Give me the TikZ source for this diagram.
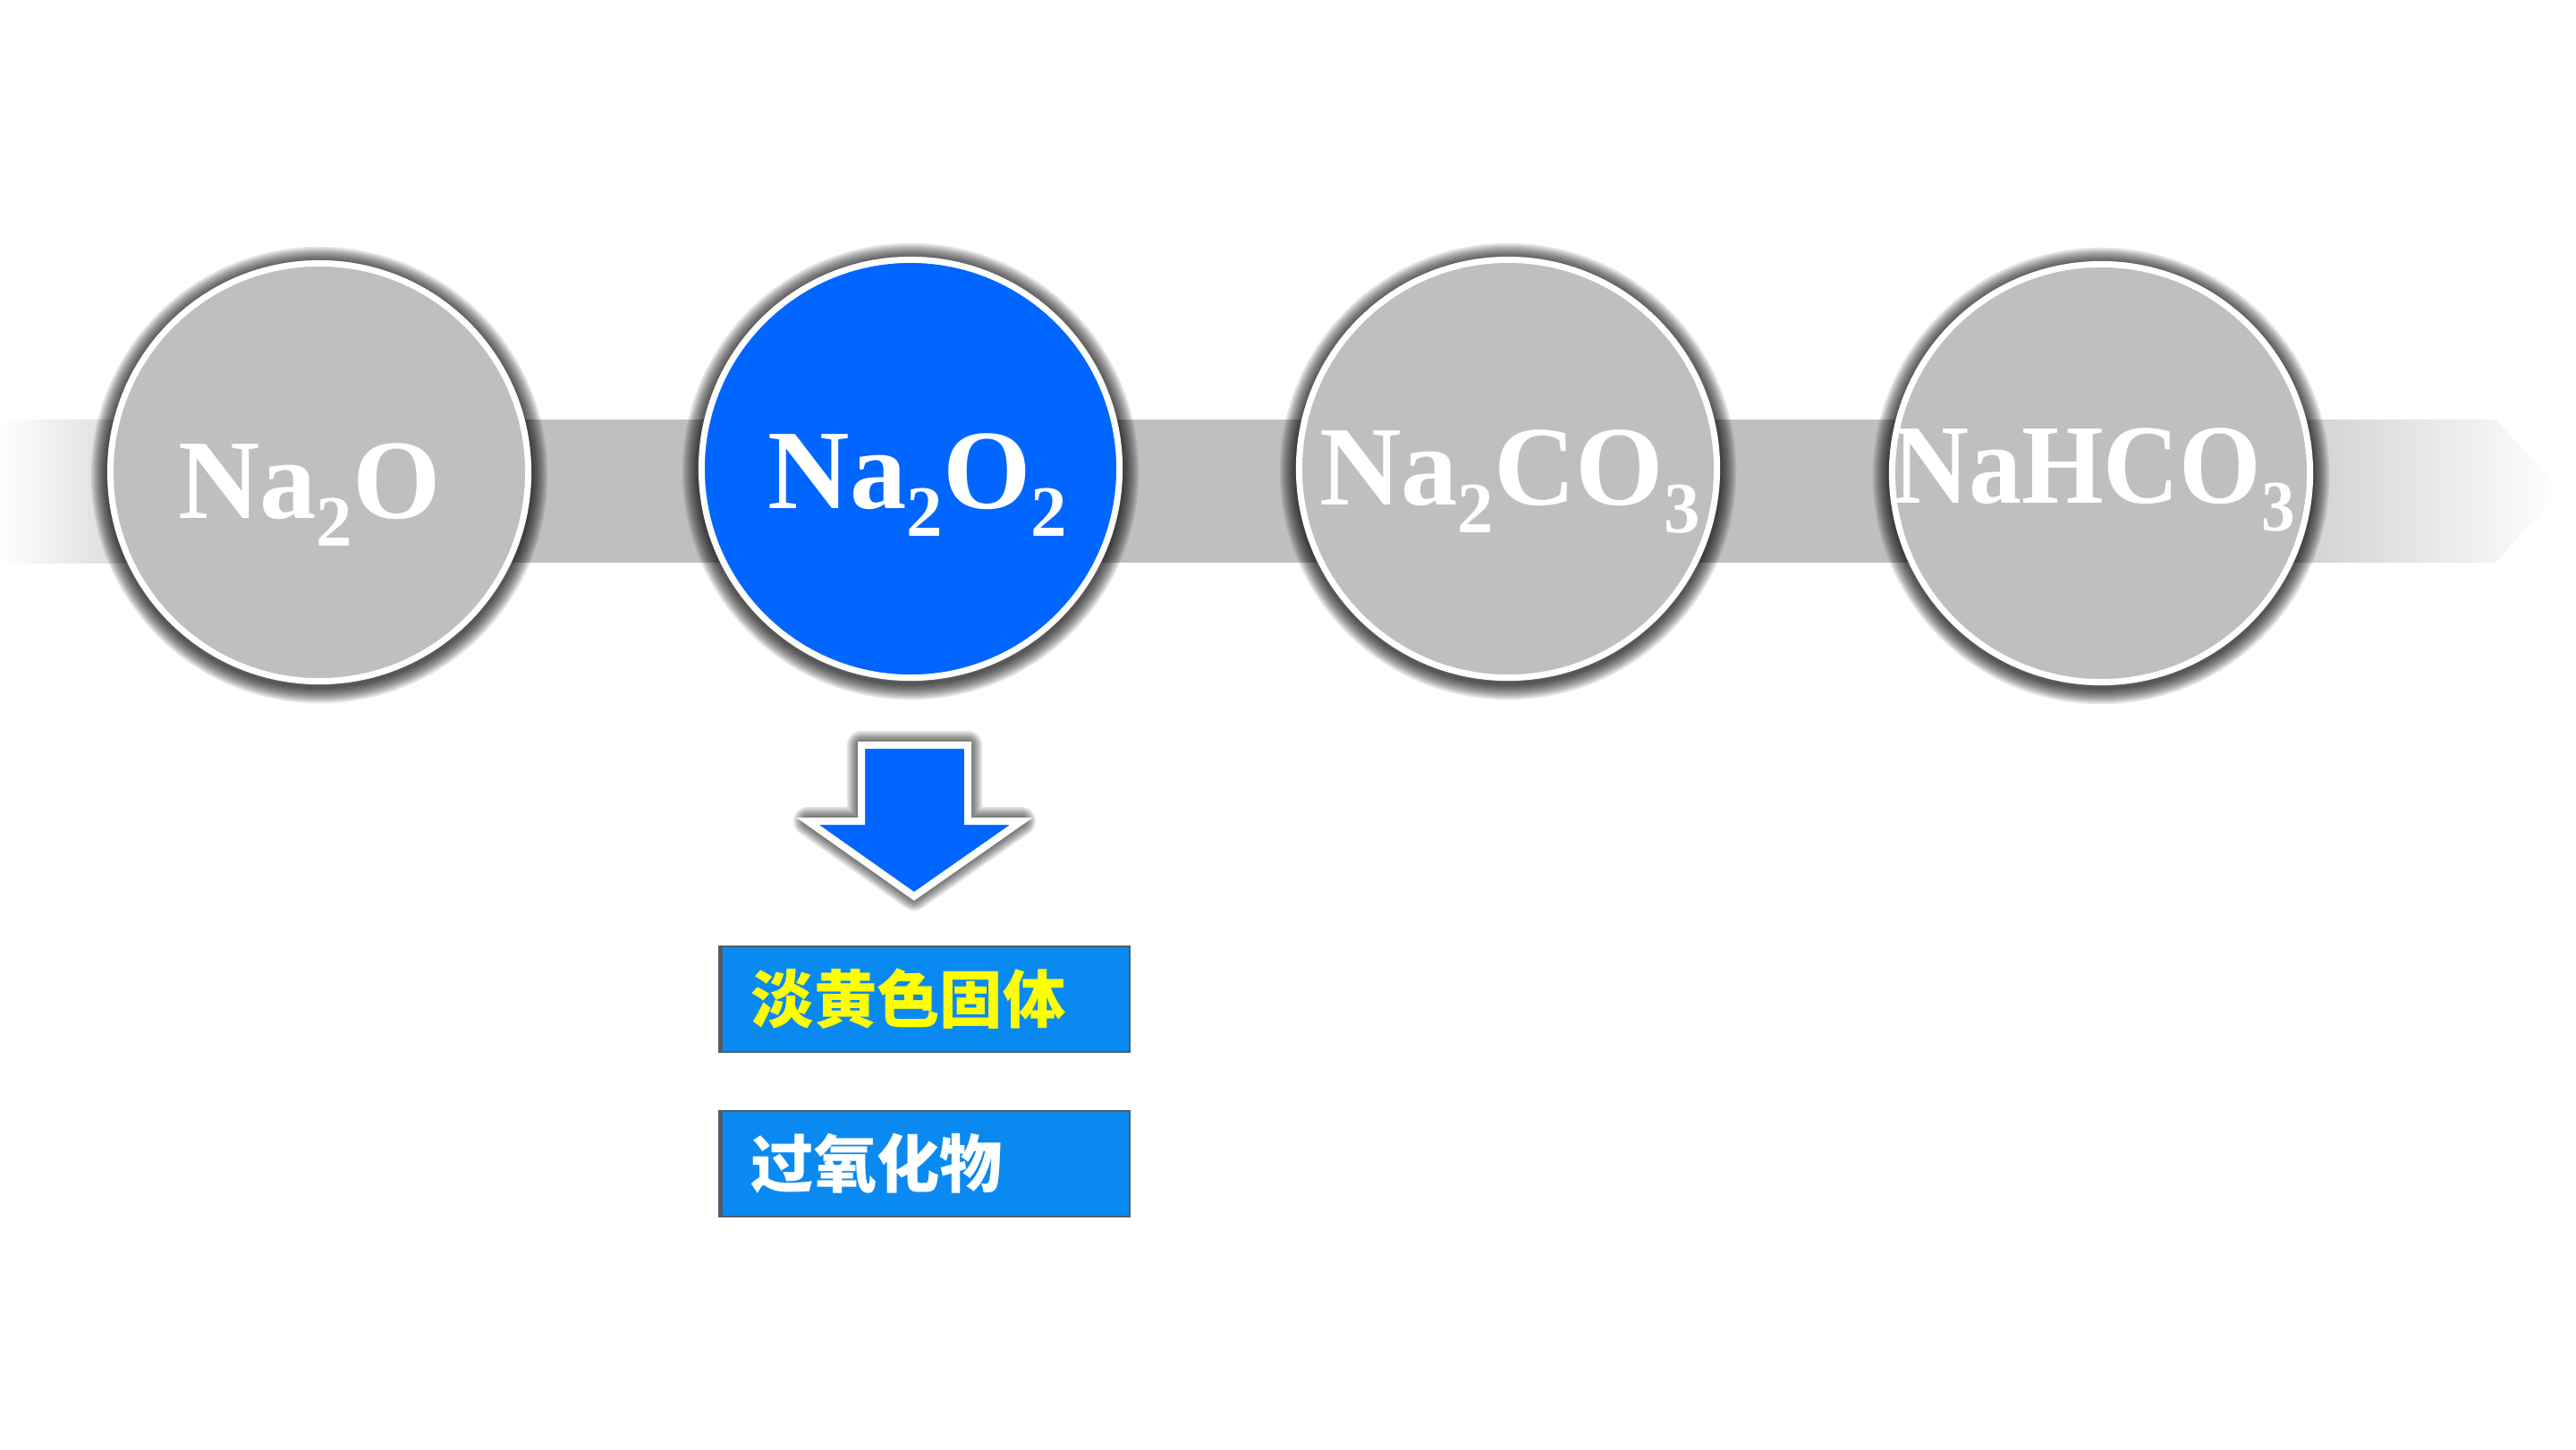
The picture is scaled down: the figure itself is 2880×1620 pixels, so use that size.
\documentclass[tikz,border=0pt]{standalone}
\usepackage{fontspec}
\setmainfont{Liberation Serif}
\newfontfamily\cjk{Noto Sans CJK SC}
\usetikzlibrary{positioning}
\definecolor{bandgrey}{HTML}{BFBFBF}
\definecolor{ballblue}{HTML}{0066FF}
\definecolor{boxblue}{HTML}{0A8AF0}
\definecolor{boxedge}{HTML}{4D5D6D}
\definecolor{tagyellow}{HTML}{FFFF00}
\newcommand{\chemsub}[1]{\raisebox{-9pt}{\fontsize{23}{23}\selectfont #1}}
\tikzset{
x=0.01cm, y=-0.01cm, % one unit is one pixel, y runs down
ball/.style={circle, draw=white, line width=0.07cm, fill=#1, minimum size=4.67cm, inner sep=0pt},
formula/.style={anchor=base, text=white, font=\fontsize{36}{36}\selectfont\bfseries, inner sep=0pt},
glowline/.style={draw=black, opacity=0.11, line join=round},
tagbox/.style={rectangle, fill=boxblue, draw=boxedge, line width=0.02cm, minimum width=4.56cm, minimum height=1.18cm,
  text width=3.9cm, align=left, inner xsep=0.33cm, font=\cjk\bfseries\fontsize{20}{20}\selectfont},
}
\begin{document}
\begin{tikzpicture}
\fill[white] (0,0) rectangle (2880,1620);
\useasboundingbox (0,0) rectangle (2880,1620);
% band with its faded ends
\fill[bandgrey] (240,469) rectangle (2460,629);
\shade[left color=white, right color=bandgrey] (0,469) rectangle (241,629);
\shade[left color=bandgrey, right color=white] (2459,469) -- (2790,469) -- (2863,548) -- (2790,629) -- (2459,629) -- cycle;
% centres of the balls
\coordinate (p1) at (357,528);
\coordinate (p2) at (1018,524);
\coordinate (p3) at (1686,524);
\coordinate (p4) at (2349,529);
% glow round the balls
\foreach \p in {p1,p2,p3,p4}
  \foreach \w in {4,8,...,36}
    \draw[glowline, line width=\w*0.01cm] ([yshift=-0.03cm]\p) circle (2.37cm);
\node[ball=bandgrey] (c1) at (p1) {};
\node[ball=ballblue] (c2) at (p2) {};
\node[ball=bandgrey] (c3) at (p3) {};
\node[ball=bandgrey] (c4) at (p4) {};
\node[formula] (t1) at (346,579) {Na\chemsub{2}O};
\node[formula] (t2) at (1026,568) {Na\chemsub{2}O\chemsub{2}};
\node[formula] (t3) at (1688,564) {Na\chemsub{2}CO\chemsub{3}};
\node[formula] (t4) at (2341,562) {\scalebox{0.93}[1]{NaHCO\chemsub{3}}};
% block arrow under the blue ball
\path[save path=\downpath] (963,833) -- (1082,833) -- (1082,918) -- (1142,918) -- (1022,1002) -- (903,918) -- (963,918) -- cycle;
\foreach \w in {4,8,...,32}
  \draw[glowline, line width=\w*0.01cm, use path=\downpath];
\draw[draw=white, fill=ballblue, line width=0.08cm, use path=\downpath];
% the two tags
\node[tagbox, text=tagyellow] (b1) at (1035,1117) {淡黄色固体};
\node[tagbox, text=white, below=0.64cm of b1] (b2) {过氧化物};
\draw[boxedge, line width=0.05cm] (b1.south west) -- (b1.north west);
\draw[boxedge, line width=0.05cm] (b2.south west) -- (b2.north west);
\end{tikzpicture}
\end{document}
